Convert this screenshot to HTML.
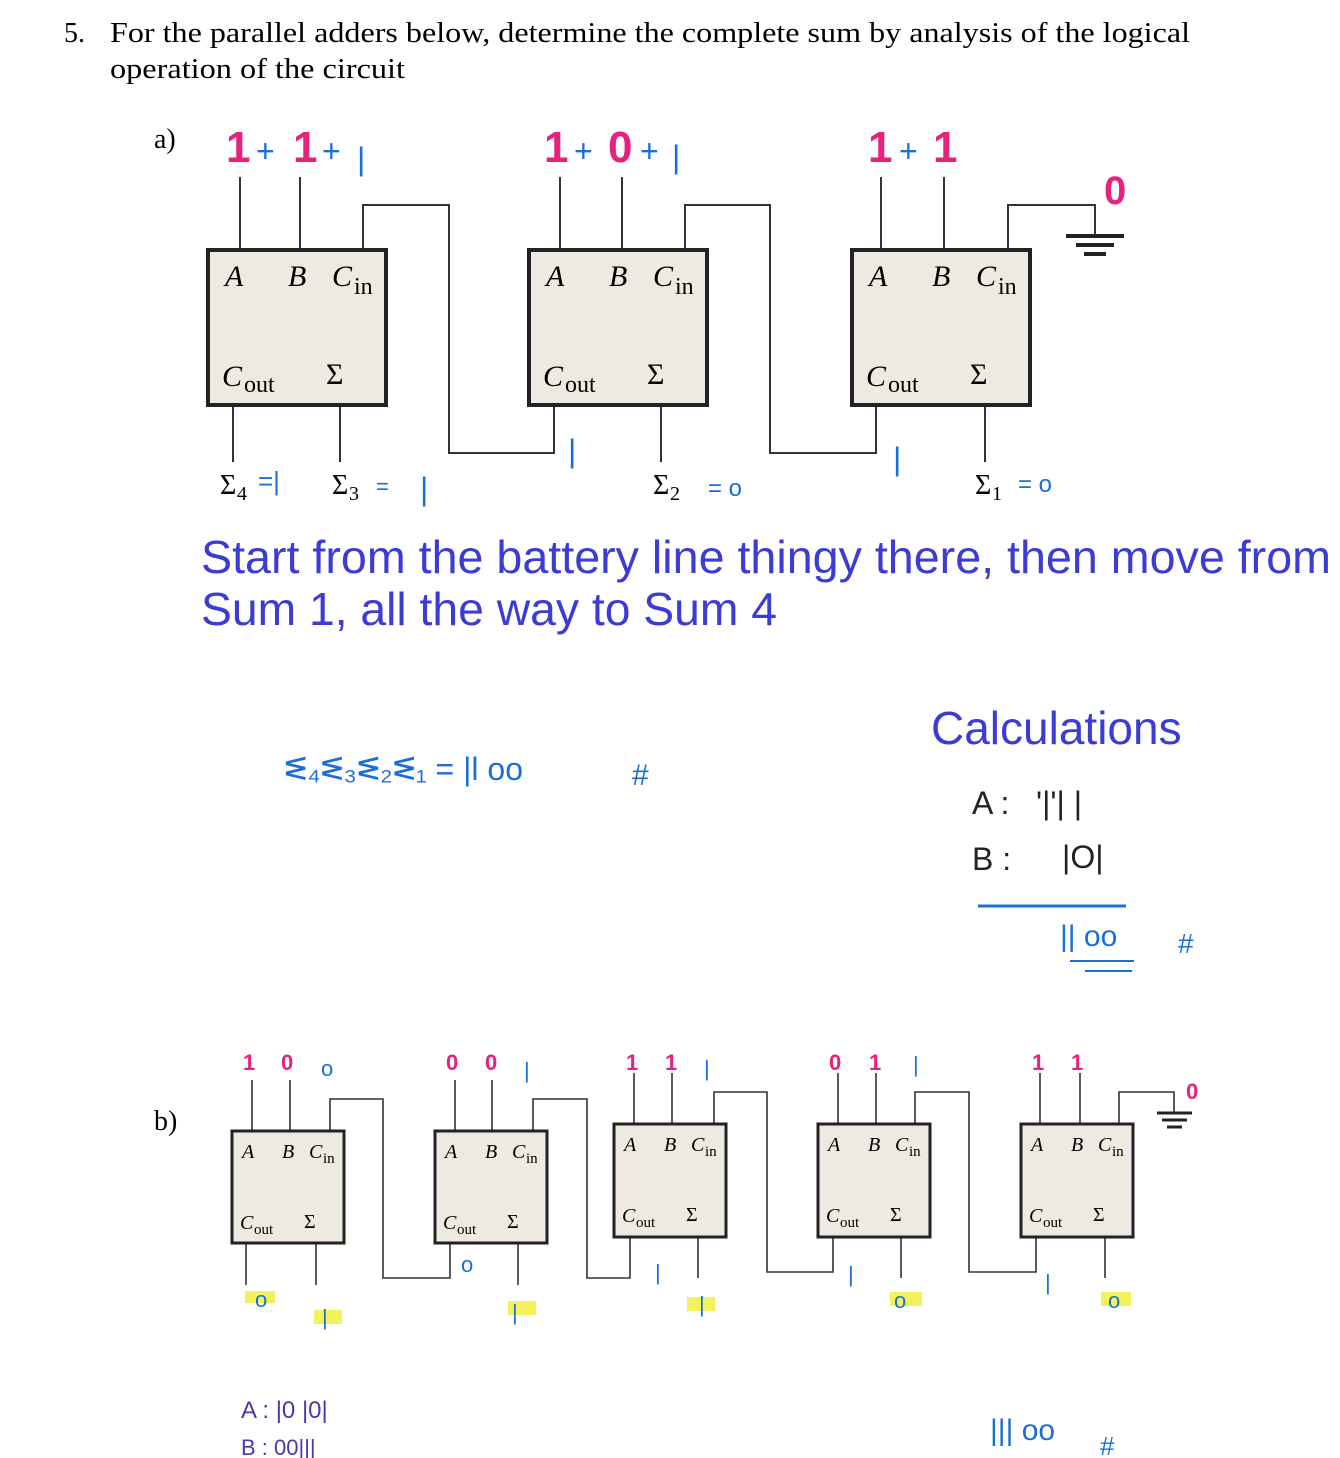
<!DOCTYPE html>
<html><head><meta charset="utf-8"><style>
html,body{margin:0;padding:0;background:#fff;}
svg{display:block;}
.s{font-family:"Liberation Serif",serif;}
.i{font-family:"Liberation Serif",serif;font-style:italic;}
.p{font-family:"Liberation Sans",sans-serif;font-weight:bold;fill:#e8207e;}
.h{font-family:"Liberation Sans",sans-serif;fill:#1a6fd6;}
.hb{font-family:"Liberation Sans",sans-serif;fill:#3b3bd6;}
</style></head><body>
<svg width="1340" height="1458" viewBox="0 0 1340 1458" xmlns="http://www.w3.org/2000/svg">
<text x="64" y="42" class="s" font-size="28">5.</text>
<text x="110" y="42" class="s" font-size="28" textLength="1080" lengthAdjust="spacingAndGlyphs">For the parallel adders below, determine the complete sum by analysis of the logical</text>
<text x="110" y="78" class="s" font-size="28" textLength="295" lengthAdjust="spacingAndGlyphs">operation of the circuit</text>
<text x="154" y="148" class="s" font-size="28">a)</text>

<g stroke="#333" stroke-width="2" fill="none">
<path d="M240 177V249M300 177V249M363 249V205H449V453H554V405"/>
<path d="M560 177V249M622 177V249M685 249V205H770V453H876V405"/>
<path d="M881 177V249M944 177V249M1008 249V205H1095V234"/>
<path d="M233 405V462M340 405V462M661 405V462M985 405V462"/>
</g>
<g stroke="#222" stroke-width="4"><path d="M1066 236H1124M1076 245H1114M1084 254H1106"/></g>
<g fill="#eeeae2" stroke="#222" stroke-width="4">
<rect x="208" y="250" width="178" height="155"/>
<rect x="529" y="250" width="178" height="155"/>
<rect x="852" y="250" width="178" height="155"/>
</g>
<g font-size="30">
<text x="225" y="286" class="i">A</text><text x="288" y="286" class="i">B</text><text x="332" y="286" class="i">C</text><text x="354" y="294" class="s" font-size="24">in</text>
<text x="222" y="386" class="i">C</text><text x="244" y="392" class="s" font-size="24">out</text><text x="326" y="384" class="s">Σ</text>
<text x="546" y="286" class="i">A</text><text x="609" y="286" class="i">B</text><text x="653" y="286" class="i">C</text><text x="675" y="294" class="s" font-size="24">in</text>
<text x="543" y="386" class="i">C</text><text x="565" y="392" class="s" font-size="24">out</text><text x="647" y="384" class="s">Σ</text>
<text x="869" y="286" class="i">A</text><text x="932" y="286" class="i">B</text><text x="976" y="286" class="i">C</text><text x="998" y="294" class="s" font-size="24">in</text>
<text x="866" y="386" class="i">C</text><text x="888" y="392" class="s" font-size="24">out</text><text x="970" y="384" class="s">Σ</text>
</g>
<g font-size="28" class="s">
<text x="220" y="494">Σ</text><text x="237" y="500" font-size="20">4</text>
<text x="332" y="494">Σ</text><text x="349" y="500" font-size="20">3</text>
<text x="653" y="494">Σ</text><text x="670" y="500" font-size="20">2</text>
<text x="975" y="494">Σ</text><text x="992" y="500" font-size="20">1</text>
</g>
<g class="p" font-size="44">
<text x="226" y="162">1</text><text x="293" y="162">1</text>
<text x="544" y="162">1</text><text x="608" y="162">0</text>
<text x="868" y="162">1</text><text x="933" y="162">1</text>
<text x="1104" y="204" font-size="40">0</text>
</g>
<g class="h" font-size="32">
<text x="256" y="162">+</text><text x="322" y="162">+</text><text x="357" y="170">|</text>
<text x="574" y="162">+</text><text x="640" y="162">+</text><text x="672" y="168">|</text>
<text x="899" y="162">+</text>
<text x="258" y="490" font-size="26">=|</text><text x="376" y="494" font-size="22">=</text><text x="420" y="500">|</text>
<text x="568" y="462">|</text><text x="708" y="496" font-size="24">= o</text>
<text x="893" y="470">|</text><text x="1018" y="492" font-size="24">= o</text>
</g>
<text x="201" y="573" class="hb" font-size="46" textLength="1130" lengthAdjust="spacingAndGlyphs">Start from the battery line thingy there, then move from</text>
<text x="201" y="625" class="hb" font-size="46" textLength="576" lengthAdjust="spacingAndGlyphs">Sum 1, all the way to Sum 4</text>

<text x="284" y="780" class="h" font-size="32">ᓬ₄ᓬ₃ᓬ₂ᓬ₁ = |l  oo</text>
<text x="632" y="785" class="h" font-size="30">#</text>
<text x="931" y="744" class="hb" font-size="46">Calculations</text>
<g fill="#222" font-family="Liberation Sans,sans-serif" font-size="32">
<text x="972" y="814">A  :</text><text x="1036" y="814">'|'| |</text>
<text x="972" y="870">B  :</text><text x="1062" y="868">|O|</text>
</g>
<path d="M978 906H1126" stroke="#1a6fd6" stroke-width="3"/>
<text x="1060" y="946" class="h" font-size="30">|| oo</text>
<path d="M1070 961H1134M1085 971H1132" stroke="#1a6fd6" stroke-width="2"/>
<text x="1178" y="953" class="h" font-size="28">#</text>

<text x="154" y="1130" class="s" font-size="28">b)</text>
<g stroke="#333" stroke-width="1.6" fill="none">
<path d="M252 1080V1131M290 1080V1131M330 1131V1099H383V1278H450V1243"/>
<path d="M455 1080V1131M492 1080V1131M533 1131V1099H587V1278H630V1237"/>
<path d="M634 1073V1124M672 1073V1124M714 1124V1092H767V1272H833V1237"/>
<path d="M838 1073V1124M876 1073V1124M915 1124V1092H969V1272H1036V1237"/>
<path d="M1040 1073V1124M1080 1073V1124M1119 1124V1092H1174V1112"/>
<path d="M246 1243V1285M316 1243V1285M518 1243V1285M698 1237V1278M901 1237V1278M1105 1237V1278"/>
</g>
<g stroke="#222" stroke-width="3"><path d="M1157 1113H1192M1162 1120H1187M1167 1127H1182"/></g>
<g fill="#eeeae2" stroke="#222" stroke-width="3">
<rect x="232" y="1131" width="112" height="112"/>
<rect x="435" y="1131" width="112" height="112"/>
<rect x="614" y="1124" width="112" height="113"/>
<rect x="818" y="1124" width="112" height="113"/>
<rect x="1021" y="1124" width="112" height="113"/>
</g>
<g font-size="20">
<g transform="translate(232,1131)"><text x="10" y="27" class="i">A</text><text x="50" y="27" class="i">B</text><text x="77" y="27" class="i">C</text><text x="91" y="32" class="s" font-size="15">in</text><text x="8" y="98" class="i">C</text><text x="22" y="103" class="s" font-size="15">out</text><text x="72" y="97" class="s">Σ</text></g>
<g transform="translate(435,1131)"><text x="10" y="27" class="i">A</text><text x="50" y="27" class="i">B</text><text x="77" y="27" class="i">C</text><text x="91" y="32" class="s" font-size="15">in</text><text x="8" y="98" class="i">C</text><text x="22" y="103" class="s" font-size="15">out</text><text x="72" y="97" class="s">Σ</text></g>
<g transform="translate(614,1124)"><text x="10" y="27" class="i">A</text><text x="50" y="27" class="i">B</text><text x="77" y="27" class="i">C</text><text x="91" y="32" class="s" font-size="15">in</text><text x="8" y="98" class="i">C</text><text x="22" y="103" class="s" font-size="15">out</text><text x="72" y="97" class="s">Σ</text></g>
<g transform="translate(818,1124)"><text x="10" y="27" class="i">A</text><text x="50" y="27" class="i">B</text><text x="77" y="27" class="i">C</text><text x="91" y="32" class="s" font-size="15">in</text><text x="8" y="98" class="i">C</text><text x="22" y="103" class="s" font-size="15">out</text><text x="72" y="97" class="s">Σ</text></g>
<g transform="translate(1021,1124)"><text x="10" y="27" class="i">A</text><text x="50" y="27" class="i">B</text><text x="77" y="27" class="i">C</text><text x="91" y="32" class="s" font-size="15">in</text><text x="8" y="98" class="i">C</text><text x="22" y="103" class="s" font-size="15">out</text><text x="72" y="97" class="s">Σ</text></g>
</g>
<g class="p" font-size="22">
<text x="243" y="1070">1</text><text x="281" y="1070">0</text>
<text x="446" y="1070">0</text><text x="485" y="1070">0</text>
<text x="626" y="1070">1</text><text x="665" y="1070">1</text>
<text x="829" y="1070">0</text><text x="869" y="1070">1</text>
<text x="1032" y="1070">1</text><text x="1071" y="1070">1</text>
<text x="1186" y="1099">0</text>
</g>
<g fill="#f4f25a">
<rect x="245" y="1291" width="30" height="12"/><rect x="314" y="1310" width="28" height="14"/>
<rect x="508" y="1301" width="28" height="14"/><rect x="687" y="1297" width="28" height="14"/>
<rect x="890" y="1292" width="32" height="14"/><rect x="1101" y="1292" width="30" height="14"/>
</g>
<g class="h" font-size="22">
<text x="321" y="1076">o</text><text x="524" y="1078">|</text><text x="704" y="1076">|</text><text x="913" y="1072">|</text>
<text x="255" y="1307">o</text><text x="322" y="1325">|</text><text x="461" y="1272">o</text><text x="512" y="1320">|</text>
<text x="655" y="1280">|</text><text x="699" y="1312">|</text><text x="848" y="1282">|</text><text x="894" y="1308">o</text>
<text x="1045" y="1290">|</text><text x="1108" y="1308">o</text>
</g>
<g fill="#4a3aa8" font-family="Liberation Sans,sans-serif" font-size="24">
<text x="241" y="1418">A  : |0 |0|</text>
<text x="241" y="1455" font-size="22">B  :  00|||</text>
</g>
<text x="990" y="1440" class="h" font-size="30">||| oo</text>
<text x="1100" y="1455" class="h" font-size="26">#</text>
</svg>
</body></html>
